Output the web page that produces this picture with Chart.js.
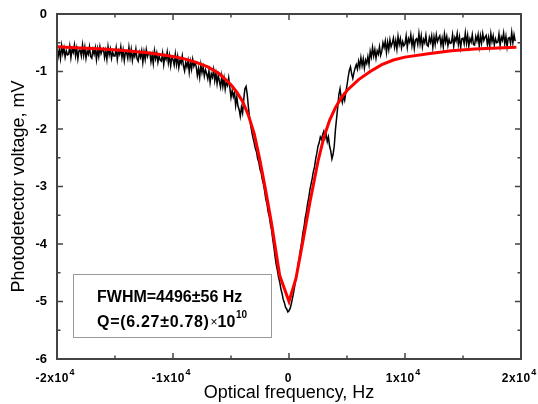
<!DOCTYPE html>
<html><head><meta charset="utf-8">
<script src="https://cdn.jsdelivr.net/npm/chart.js@4.4.1/dist/chart.umd.min.js"></script>
<style>html,body{margin:0;padding:0;background:#fff;} canvas{display:block;}</style>
</head><body>
<canvas id="c" width="538" height="404"></canvas>
<script>
// ---- tick labels / text ----
const xTickValues = [-20000, -10000, 0, 10000, 20000];
const xTickBase = ['-2x10', '-1x10', '0', '1x10', '2x10'];
const xTickExp = ['4', '4', '', '4', '4'];
const xMinorValues = [-15000, -5000, 5000, 15000];
const yTickValues = [0, -1, -2, -3, -4, -5, -6];
const yTickLabels = ['0', '-1', '-2', '-3', '-4', '-5', '-6'];
const yMinorValues = [-0.5, -1.5, -2.5, -3.5, -4.5, -5.5];
const xTitle = 'Optical frequency, Hz';
const yTitle = 'Photodetector voltage, mV';
const noteLine1 = 'FWHM=4496±56 Hz';
const noteLine2Main = 'Q=(6.27±0.78)';
const noteLine2Times = '×';
const noteLine2Base = '10';
const noteLine2Exp = '10';

// ---- measured trace (sampled every 100 Hz from -20000 Hz) ----
const measStartHz = -20000;
const measStepHz = 100;
const measVolt = [
  -0.58,-0.74,-0.62,-0.77,-0.55,-0.69,-0.59,-0.75,-0.64,-0.71,
  -0.70,-0.56,-0.76,-0.61,-0.67,-0.54,-0.73,-0.60,-0.78,-0.63,
  -0.63,-0.73,-0.54,-0.72,-0.58,-0.77,-0.64,-0.70,-0.57,-0.74,
  -0.77,-0.62,-0.70,-0.59,-0.79,-0.61,-0.74,-0.57,-0.69,-0.63,
  -0.60,-0.76,-0.64,-0.79,-0.57,-0.71,-0.61,-0.77,-0.66,-0.73,
  -0.73,-0.59,-0.79,-0.64,-0.70,-0.57,-0.76,-0.63,-0.81,-0.66,
  -0.67,-0.77,-0.58,-0.76,-0.62,-0.81,-0.68,-0.74,-0.61,-0.78,
  -0.82,-0.67,-0.75,-0.64,-0.84,-0.66,-0.79,-0.62,-0.74,-0.68,
  -0.67,-0.83,-0.71,-0.86,-0.64,-0.78,-0.68,-0.84,-0.73,-0.80,
  -0.82,-0.68,-0.88,-0.73,-0.79,-0.66,-0.85,-0.72,-0.90,-0.75,
  -0.79,-0.89,-0.70,-0.88,-0.74,-0.93,-0.80,-0.86,-0.73,-0.90,
  -0.99,-0.84,-0.92,-0.81,-1.01,-0.83,-0.96,-0.79,-0.91,-0.85,
  -0.91,-1.07,-0.95,-1.10,-0.88,-1.02,-0.92,-1.08,-0.97,-1.04,
  -1.13,-0.99,-1.19,-1.04,-1.10,-0.97,-1.16,-1.03,-1.21,-1.06,
  -1.17,-1.27,-1.08,-1.26,-1.12,-1.31,-1.18,-1.24,-1.11,-1.28,
  -1.45,-1.33,-1.44,-1.36,-1.59,-1.44,-1.60,-1.66,-1.78,-1.62,
  -1.72,-1.48,-1.30,-1.26,-1.40,-1.62,-1.80,-1.94,-2.06,-2.16,
  -2.24,-2.34,-2.40,-2.52,-2.58,-2.70,-2.76,-2.88,-2.96,-3.08,
  -3.22,-3.30,-3.44,-3.52,-3.66,-3.76,-3.92,-4.06,-4.22,-4.36,
  -4.46,-4.58,-4.66,-4.78,-4.86,-4.96,-5.02,-5.10,-5.13,-5.18,
  -5.16,-5.12,-5.04,-4.94,-4.84,-4.72,-4.60,-4.48,-4.34,-4.22,
  -4.08,-3.96,-3.80,-3.70,-3.54,-3.44,-3.30,-3.20,-3.06,-2.96,
  -2.86,-2.74,-2.66,-2.52,-2.42,-2.30,-2.24,-2.14,-2.18,-2.10,
  -2.04,-2.16,-2.08,-2.22,-2.14,-2.30,-2.38,-2.52,-2.44,-2.30,
  -2.02,-1.82,-1.62,-1.40,-1.30,-1.46,-1.54,-1.42,-1.50,-1.36,
  -1.24,-1.10,-0.98,-0.92,-1.04,-1.12,-1.02,-0.94,-0.88,-0.96,
  -0.82,-0.92,-0.76,-0.90,-0.78,-0.94,-0.80,-0.86,-0.74,-0.88,
  -0.65,-0.75,-0.58,-0.73,-0.62,-0.77,-0.64,-0.70,-0.57,-0.72,
  -0.65,-0.50,-0.58,-0.47,-0.67,-0.49,-0.62,-0.45,-0.57,-0.51,
  -0.42,-0.58,-0.46,-0.61,-0.39,-0.53,-0.43,-0.59,-0.48,-0.55,
  -0.52,-0.38,-0.58,-0.43,-0.49,-0.36,-0.55,-0.42,-0.60,-0.45,
  -0.43,-0.53,-0.34,-0.52,-0.38,-0.57,-0.44,-0.50,-0.37,-0.54,
  -0.56,-0.41,-0.49,-0.38,-0.58,-0.40,-0.53,-0.36,-0.48,-0.42,
  -0.38,-0.54,-0.42,-0.57,-0.35,-0.49,-0.39,-0.55,-0.44,-0.51,
  -0.50,-0.36,-0.56,-0.41,-0.47,-0.34,-0.53,-0.40,-0.58,-0.43,
  -0.42,-0.52,-0.33,-0.51,-0.37,-0.56,-0.43,-0.49,-0.36,-0.53,
  -0.54,-0.39,-0.47,-0.36,-0.56,-0.38,-0.51,-0.34,-0.46,-0.40,
  -0.37,-0.53,-0.41,-0.56,-0.34,-0.48,-0.38,-0.54,-0.43,-0.50,
  -0.49,-0.35,-0.55,-0.40,-0.46,-0.33,-0.52,-0.39,-0.57,-0.42,
  -0.41,-0.51,-0.32,-0.50,-0.36,-0.47
];

// ---- fitted curve (red) ----
const fitFreq = [-20000,-18000,-16000,-14000,-12000,-10000,-9000,-8000,-7000,-6000,-5000,-4500,-4000,-3500,-3000,-2500,-2000,-1500,-800,0,600,1200,1800,2500,3000,3500,4000,4500,5000,6000,7000,8000,9000,10000,12000,14000,16000,18000,19600];
const fitVolt = [-0.57,-0.59,-0.61,-0.64,-0.68,-0.74,-0.78,-0.84,-0.92,-1.04,-1.23,-1.36,-1.52,-1.76,-2.08,-2.55,-3.08,-3.65,-4.55,-5.00,-4.60,-3.95,-3.28,-2.56,-2.15,-1.85,-1.63,-1.46,-1.33,-1.14,-1.00,-0.88,-0.80,-0.75,-0.69,-0.64,-0.61,-0.59,-0.58];

const measData = measVolt.map((v, i) => ({x: measStartHz + i * measStepHz, y: v}));
const fitData = fitFreq.map((f, i) => ({x: f, y: fitVolt[i]}));

const FONT = '"Liberation Sans", Arial, sans-serif';

const framePlugin = {
  id: 'frame',
  afterDraw(chart) {
    const ctx = chart.ctx;
    const {left, right, top, bottom} = chart.chartArea;
    const xs = chart.scales.x, ys = chart.scales.y;
    ctx.save();
    ctx.strokeStyle = '#444';
    ctx.lineWidth = 1.5;
    ctx.beginPath();
    const vx = (vals, len) => vals.forEach(v => {
      const p = xs.getPixelForValue(v);
      ctx.moveTo(p, bottom); ctx.lineTo(p, bottom - len);
      ctx.moveTo(p, top); ctx.lineTo(p, top + len);
    });
    const vy = (vals, len) => vals.forEach(v => {
      const p = ys.getPixelForValue(v);
      ctx.moveTo(left, p); ctx.lineTo(left + len, p);
      ctx.moveTo(right, p); ctx.lineTo(right - len, p);
    });
    vx(xTickValues, 6); vx(xMinorValues, 3.5);
    vy(yTickValues, 6); vy(yMinorValues, 3.5);
    ctx.stroke();
    ctx.lineWidth = 2;
    ctx.strokeRect(left, top, right - left, bottom - top);

    // x tick labels with superscript exponent
    ctx.fillStyle = '#000';
    ctx.textBaseline = 'alphabetic';
    ctx.textAlign = 'left';
    xTickValues.forEach((v, i) => {
      const p = xs.getPixelForValue(v);
      ctx.font = 'bold 12px ' + FONT;
      try { ctx.letterSpacing = '0.6px'; } catch (e) {}
      const wb = ctx.measureText(xTickBase[i]).width;
      try { ctx.letterSpacing = '0px'; } catch (e) {}
      ctx.font = 'bold 9px ' + FONT;
      const we = xTickExp[i] ? ctx.measureText(xTickExp[i]).width + 0.5 : 0;
      const x0 = p - (wb + we) / 2 - (xTickExp[i] ? 2 : 0.5);
      ctx.font = 'bold 12px ' + FONT;
      try { ctx.letterSpacing = '0.6px'; } catch (e) {}
      ctx.fillText(xTickBase[i], x0, bottom + 23);
      try { ctx.letterSpacing = '0px'; } catch (e) {}
      if (xTickExp[i]) {
        ctx.font = 'bold 9px ' + FONT;
        ctx.fillText(xTickExp[i], x0 + wb + 0.5, bottom + 16);
      }
    });

    // note box
    const bx = left + 16, by = top + 260, bw = 198, bh = 63;
    ctx.fillStyle = '#fff';
    ctx.fillRect(bx, by, bw, bh);
    ctx.strokeStyle = '#999';
    ctx.lineWidth = 1;
    ctx.strokeRect(bx + 0.5, by + 0.5, bw, bh);
    ctx.fillStyle = '#000';
    ctx.font = 'bold 16px ' + FONT;
    const tx = bx + 24;
    ctx.fillText(noteLine1, tx, by + 27.5);
    const y2 = by + 52.5;
    try { ctx.letterSpacing = '0.7px'; } catch (e) {}
    ctx.fillText(noteLine2Main, tx, y2);
    let w = ctx.measureText(noteLine2Main).width;
    try { ctx.letterSpacing = '0px'; } catch (e) {}
    let cx = tx + w + 1;
    ctx.font = '12px ' + FONT;
    ctx.fillText(noteLine2Times, cx, y2 - 1);
    cx += ctx.measureText(noteLine2Times).width;
    ctx.font = 'bold 16px ' + FONT;
    ctx.fillText(noteLine2Base, cx, y2);
    cx += ctx.measureText(noteLine2Base).width + 0.5;
    ctx.font = 'bold 10px ' + FONT;
    ctx.fillText(noteLine2Exp, cx, y2 - 8.5);
    ctx.restore();
  }
};

new Chart(document.getElementById('c'), {
  type: 'line',
  data: {
    datasets: [
      { label: 'fit', data: fitData, borderColor: '#ff0000', borderWidth: 3, pointRadius: 0, tension: 0, fill: false },
      { label: 'measured', data: measData, borderColor: '#000000', borderWidth: 1.5, pointRadius: 0, tension: 0, fill: false }
    ]
  },
  options: {
    responsive: false,
    animation: false,
    devicePixelRatio: 1,
    layout: { padding: { left: 0, right: 17, top: 14, bottom: 0 } },
    plugins: { legend: { display: false }, tooltip: { enabled: false } },
    scales: {
      x: {
        type: 'linear', min: -20000, max: 20000,
        grid: { display: false, drawTicks: false },
        border: { display: false },
        ticks: { display: false, stepSize: 10000 },
        title: { display: true, text: xTitle, color: '#000', font: { family: FONT, size: 18 }, padding: { top: 0, bottom: 0 } },
        afterFit: (s) => { s.height = 45; s.paddingLeft = 0; s.paddingRight = 0; }
      },
      y: {
        type: 'linear', min: -6, max: 0,
        grid: { display: false, drawTicks: false },
        border: { display: false },
        ticks: {
          stepSize: 1, autoSkip: false, padding: 10, color: '#000',
          font: { family: FONT, size: 13, weight: 'bold' },
          callback: (v) => { const i = yTickValues.indexOf(v); return i >= 0 ? yTickLabels[i] : ''; }
        },
        title: { display: true, text: yTitle, color: '#000', font: { family: FONT, size: 18 }, padding: { top: 8, bottom: 0 } },
        afterFit: (s) => { s.width = 57; s.paddingTop = 0; s.paddingBottom = 0; }
      }
    }
  },
  plugins: [framePlugin]
});
</script>
</body></html>
